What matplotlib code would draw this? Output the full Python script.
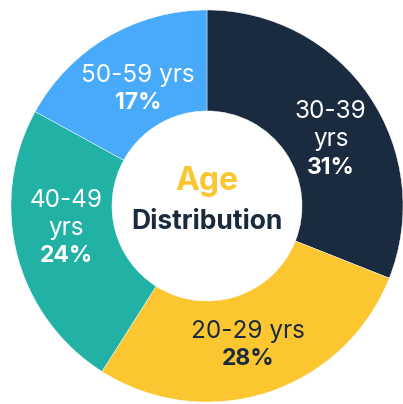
import numpy as np
import matplotlib
matplotlib.use("Agg")
import matplotlib.pyplot as plt

plt.rcParams['font.family'] = ['Inter', 'DejaVu Sans']

# data (clockwise from 12 o'clock)
groups = ["30-39\nyrs", "20-29 yrs", "40-49\nyrs", "50-59 yrs"]
shares = [31, 28, 24, 17]
colors = ["#1A2B40", "#FCC631", "#21B1A5", "#47AAFB"]
text_colors = ["white", "#1A2B40", "white", "white"]

# small label nudges (axis units) on top of the mid-ring anchor
nudges = [(0.036, -0.066), (-0.015, -0.026), (-0.02, 0.066), (0.015, -0.023)]

fig = plt.figure(figsize=(4.03, 4.04), dpi=100)
ax = fig.add_axes([0, 0, 1, 1])

wedges, _ = ax.pie(shares, colors=colors, startangle=90, counterclock=False,
                   radius=1.0, wedgeprops=dict(width=0.515, edgecolor="white", linewidth=0.3))

r_lab = 0.72
lh = 0.143
for w, g, s, tc, (nx, ny) in zip(wedges, groups, shares, text_colors, nudges):
    mid = np.deg2rad((w.theta1 + w.theta2) / 2)
    x = r_lab * np.cos(mid) + nx
    y = r_lab * np.sin(mid) + ny
    lines = g.split("\n")
    n_tot = len(lines) + 1
    top = y + n_tot * lh / 2
    for i, line in enumerate(lines):
        ax.text(x, top - i * lh - lh / 2, line, ha="center", va="center",
                fontsize=17.5, color=tc)
    ax.text(x, top - len(lines) * lh - lh / 2, f"{s}%", ha="center", va="center",
            fontsize=16.5, fontweight="bold", color=tc)

ax.text(0, 0.125, "Age", ha="center", va="center", fontsize=23, fontweight="bold", color="#FCC631")
ax.text(0, -0.08, "Distribution", ha="center", va="center", fontsize=19, fontweight="bold", color="#1A2B40")

ax.set_xlim(-207 / 196, 196 / 196)
ax.set_ylim(-198 / 196, 206 / 196)
ax.set_aspect("equal")
ax.axis("off")

fig.savefig("out.png", dpi=100, facecolor="white")
